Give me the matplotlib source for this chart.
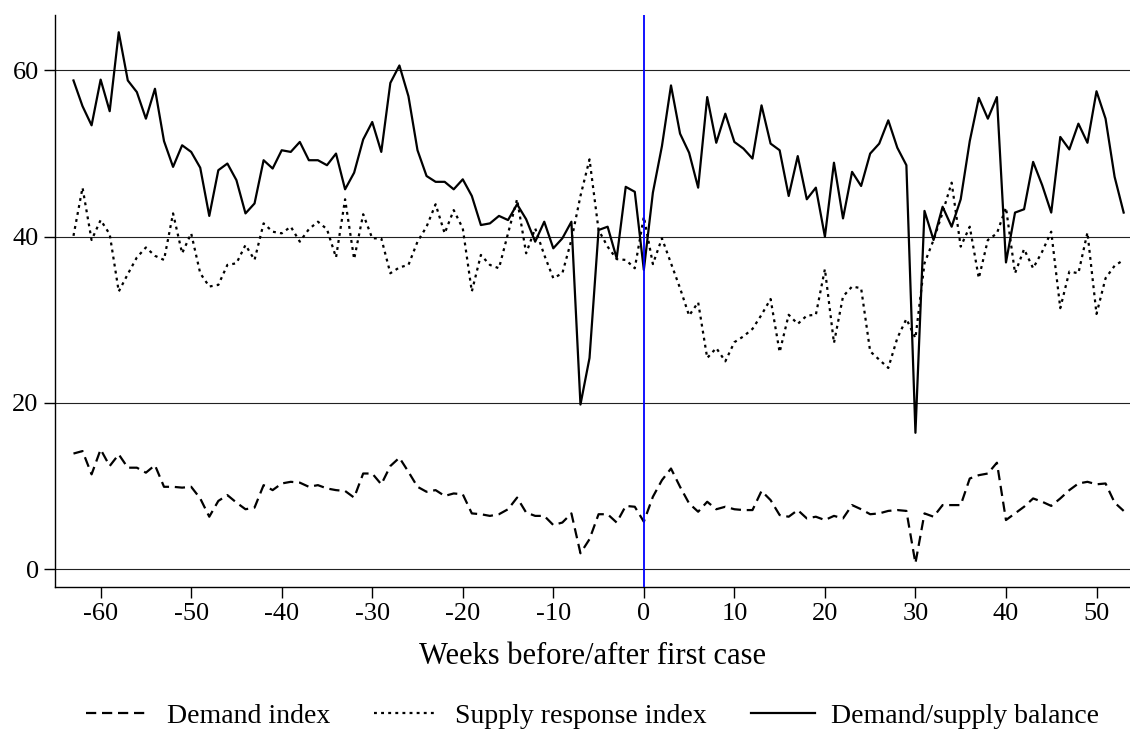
"""Demand, supply response and demand/supply balance indices around the first case."""

import matplotlib
matplotlib.use("Agg")
import matplotlib.pyplot as plt
import numpy as np

OUT = "out.png"

WEEK_START = -63
WEEK_END = 53

DEMAND = [
    13.9, 14.2, 11.4, 14.4, 12.4, 13.8, 12.2, 12.2, 11.6, 12.5,   # -63..-54
    9.9, 9.9, 9.8, 9.9, 8.5, 6.3, 8.2, 8.9, 8.0, 7.2,             # -53..-44
    7.4, 10.1, 9.5, 10.3, 10.5, 10.4, 9.9, 10.1, 9.7, 9.5,        # -43..-34
    9.4, 8.6, 11.5, 11.5, 10.2, 12.4, 13.4, 11.7, 9.9, 9.3,       # -33..-24
    9.5, 8.8, 9.1, 9.0, 6.7, 6.6, 6.4, 6.6, 7.2, 8.6,             # -23..-14
    6.8, 6.4, 6.4, 5.3, 5.6, 6.7, 1.9, 3.6, 6.6, 6.6,             # -13..-4
    5.6, 7.6, 7.5, 5.7, 8.7, 10.7, 12.1, 9.9, 7.9, 6.9,           # -3..6
    8.1, 7.2, 7.5, 7.2, 7.1, 7.1, 9.4, 8.3, 6.5, 6.3,             # 7..16
    7.1, 6.1, 6.3, 5.9, 6.4, 6.1, 7.7, 7.2, 6.6, 6.7,             # 17..26
    7.0, 7.1, 7.0, 0.7, 6.7, 6.3, 7.7, 7.7, 7.7, 10.9,            # 27..36
    11.3, 11.5, 12.8, 5.9, 6.7, 7.5, 8.5, 8.1, 7.6, 8.5,          # 37..46
    9.5, 10.3, 10.5, 10.2, 10.3, 8.0, 7.0,                        # 47..53
]

SUPPLY = [
    40.1, 45.9, 39.6, 42.0, 40.3, 33.4, 35.5, 37.5, 38.7, 37.7,   # -63..-54
    37.2, 42.8, 38.0, 40.4, 35.6, 34.0, 34.2, 36.6, 36.8, 39.0,   # -53..-44
    37.2, 41.6, 40.6, 40.4, 41.2, 39.4, 40.9, 41.8, 40.9, 37.5,   # -43..-34
    44.5, 37.3, 42.7, 39.8, 39.8, 35.6, 36.3, 36.6, 39.4, 41.2,   # -33..-24
    43.9, 40.4, 43.2, 41.0, 33.4, 37.8, 36.6, 36.2, 40.4, 44.5,   # -23..-14
    38.0, 41.0, 37.8, 35.0, 35.6, 39.6, 44.9, 49.3, 40.8, 38.8,   # -13..-4
    37.3, 37.2, 36.2, 42.4, 36.7, 39.8, 36.8, 33.8, 30.5, 32.1,   # -3..6
    25.4, 26.6, 25.0, 27.3, 28.0, 28.9, 30.6, 32.5, 26.1, 30.6,   # 7..16
    29.5, 30.5, 30.6, 36.1, 27.2, 32.8, 34.0, 33.8, 26.2, 25.2,   # 17..26
    24.2, 27.8, 30.1, 27.8, 36.8, 39.6, 42.9, 46.5, 38.8, 41.2,   # 27..36
    35.0, 39.6, 40.4, 43.5, 35.6, 38.5, 36.2, 38.2, 40.6, 31.4,   # 37..46
    35.8, 35.6, 40.5, 30.7, 35.0, 36.5, 37.2,                     # 47..53
]

BALANCE = [
    58.8, 55.7, 53.4, 58.9, 55.1, 64.6, 58.8, 57.4, 54.2, 57.8,   # -63..-54
    51.5, 48.4, 51.0, 50.2, 48.3, 42.5, 48.0, 48.8, 46.8, 42.8,   # -53..-44
    44.0, 49.2, 48.2, 50.4, 50.2, 51.4, 49.2, 49.2, 48.6, 50.0,   # -43..-34
    45.7, 47.7, 51.7, 53.8, 50.2, 58.5, 60.6, 56.9, 50.4, 47.3,   # -33..-24
    46.6, 46.6, 45.7, 46.9, 44.9, 41.4, 41.6, 42.5, 42.0, 43.9,   # -23..-14
    42.1, 39.4, 41.8, 38.6, 39.8, 41.8, 19.8, 25.4, 40.8, 41.2,   # -13..-4
    37.4, 46.0, 45.4, 36.0, 45.3, 50.9, 58.2, 52.4, 50.1, 45.9,   # -3..6
    56.8, 51.3, 54.8, 51.4, 50.6, 49.4, 55.8, 51.2, 50.4, 44.9,   # 7..16
    49.7, 44.5, 45.9, 40.0, 48.9, 42.2, 47.8, 46.1, 50.0, 51.2,   # 17..26
    54.0, 50.7, 48.6, 16.4, 43.1, 39.6, 43.6, 41.2, 44.5, 51.5,   # 27..36
    56.7, 54.2, 56.8, 36.9, 42.9, 43.3, 49.0, 46.2, 42.9, 52.0,   # 37..46
    50.5, 53.6, 51.3, 57.5, 54.2, 47.2, 42.9,                     # 47..53
]

X_TICKS = [-60, -50, -40, -30, -20, -10, 0, 10, 20, 30, 40, 50]
Y_TICKS = [0, 20, 40, 60]

SERIES_LABELS = ["Demand index", "Supply response index", "Demand/supply balance"]
X_LABEL = "Weeks before/after first case"


def main() -> None:
    plt.rcParams["font.family"] = ["Liberation Serif", "DejaVu Serif"]
    plt.rcParams["axes.unicode_minus"] = False
    weeks = np.arange(WEEK_START, WEEK_END + 1)

    fig = plt.figure(figsize=(11.3, 7.4), dpi=100)
    ax = fig.add_axes([0.049, 0.2074, 0.951, 0.7726])

    # horizontal grid at the labelled values
    for y in Y_TICKS:
        ax.axhline(y, color="#222222", lw=0.8, zorder=1)

    lw = 1.6
    ax.plot(weeks, DEMAND, color="black", lw=lw, dashes=(4.6, 2.6),
            label=SERIES_LABELS[0], zorder=3)
    ax.plot(weeks, SUPPLY, color="black", lw=lw, dashes=(1.3, 1.9),
            label=SERIES_LABELS[1], zorder=3)
    ax.plot(weeks, BALANCE, color="black", lw=lw, ls="-",
            label=SERIES_LABELS[2], zorder=3)

    ax.axvline(0, color="#0000ff", lw=1.3, zorder=4)

    ax.set_xlim(-65.0, 53.7)
    ax.set_ylim(-2.1, 66.7)
    ax.set_xticks(X_TICKS)
    ax.set_yticks(Y_TICKS)
    ax.tick_params(axis="both", labelsize=19, length=8, width=1.0,
                   direction="out", pad=4)

    for side in ("top", "right"):
        ax.spines[side].set_visible(False)
    for side in ("left", "bottom"):
        ax.spines[side].set_linewidth(1.0)

    ax.set_xlabel(X_LABEL, fontsize=22)
    ax.xaxis.set_label_coords(0.5, -0.123)
    ax.xaxis.label.set_va("center")

    ax.legend(loc="center", bbox_to_anchor=(0.5, -0.2266), ncol=3,
              frameon=False, fontsize=20, handlelength=2.3,
              handletextpad=0.6, columnspacing=1.6)

    fig.savefig(OUT, dpi=100)
    plt.close(fig)


if __name__ == "__main__":
    main()
